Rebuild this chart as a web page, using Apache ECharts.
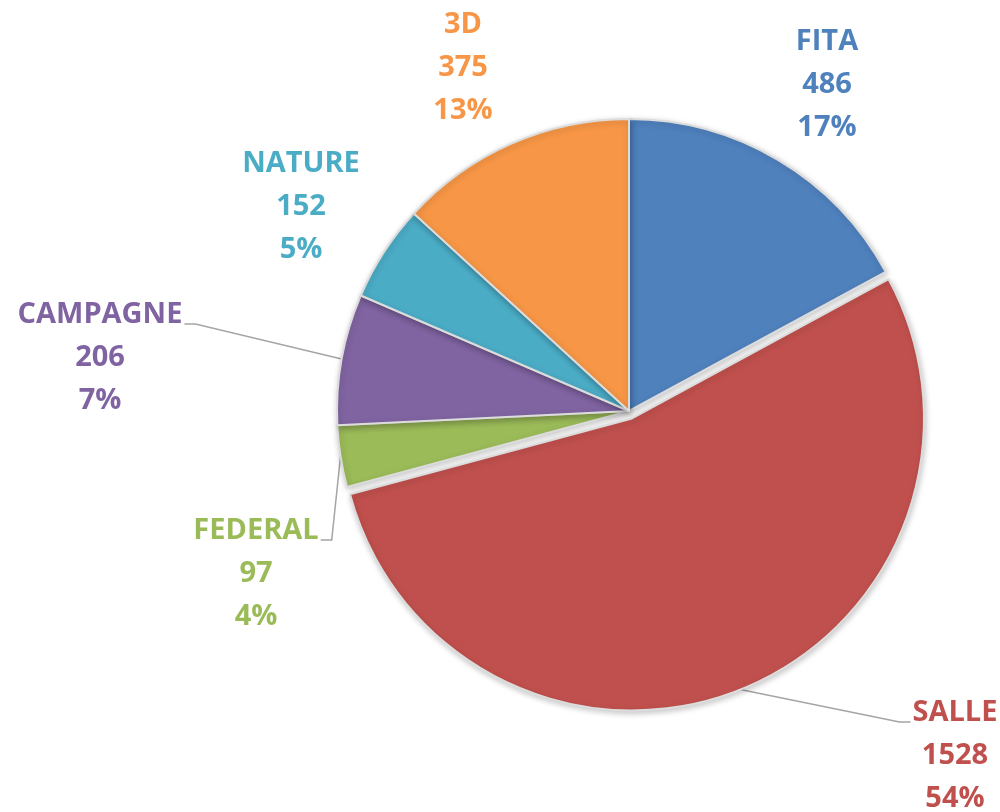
<!DOCTYPE html>
<html>
<head>
<meta charset="utf-8">
<title>Répartition par discipline</title>
<script src="https://cdn.jsdelivr.net/npm/echarts@6/dist/echarts.min.js"></script>
<style>
  html, body { margin: 0; padding: 0; background: #fff; }
  #chart { width: 1000px; height: 812px; }
</style>
</head>
<body>
<div id="chart"></div>
<script>
// données du graphique
const categories = ['FITA', 'SALLE', 'FEDERAL', 'CAMPAGNE', 'NATURE', '3D']
const counts = [486, 1528, 97, 206, 152, 375]

// couleurs des parts (palette Office)
const colors = ['#4f81bd', '#c0504d', '#9bbb59', '#8064a2', '#4bacc6', '#f79646']

// part détachée du camembert
const explodedName = 'SALLE'
const explodeOffset = 8

// placement des étiquettes : centre x, haut du bloc y, côté du trait de rappel
const labelSpots = [
  { x: 827, y: 20 },
  { x: 955, y: 691, line: 'left' },
  { x: 256, y: 509, line: 'right' },
  { x: 100, y: 293, line: 'right' },
  { x: 301, y: 142 },
  { x: 463, y: 3 }
]

const pieCenter = [629, 411]
const pieRadius = 292
const hidden = 'rgba(0,0,0,0)'

// décalage de la part détachée, le long de sa bissectrice
const total = counts.reduce((a, b) => a + b, 0)
const exIdx = categories.indexOf(explodedName)
const before = counts.slice(0, exIdx).reduce((a, b) => a + b, 0)
const midAngle = (before + counts[exIdx] / 2) / total * Math.PI * 2
const exDx = Math.sin(midAngle) * explodeOffset
const exDy = -Math.cos(midAngle) * explodeOffset

const chartInstance = echarts.init(document.getElementById('chart'))

const baseStyle = {
  borderColor: '#dcdcdc',
  borderWidth: 2,
  shadowBlur: 6,
  shadowColor: 'rgba(0, 0, 0, 0.22)',
  shadowOffsetX: 1,
  shadowOffsetY: 2
}
const hiddenStyle = { color: hidden, borderWidth: 0, shadowBlur: 0, shadowColor: hidden }

// série principale : toutes les parts + toutes les étiquettes (la part détachée y est invisible)
const mainData = categories.map((name, i) => ({
  name: name,
  value: counts[i],
  itemStyle: i === exIdx ? hiddenStyle : { color: colors[i] },
  label: { color: colors[i] },
  labelLine: { show: !!labelSpots[i].line }
}))

// série du dessus : seulement la part détachée, centre décalé
const explodedData = categories.map((name, i) => ({
  name: name,
  value: counts[i],
  itemStyle: i === exIdx ? { color: colors[i] } : hiddenStyle
}))

const option = {
  animation: false,
  series: [
    {
      type: 'pie',
      center: pieCenter,
      radius: pieRadius,
      startAngle: 90,
      clockwise: true,
      percentPrecision: 0,
      avoidLabelOverlap: false,
      itemStyle: baseStyle,
      label: {
        show: true,
        position: 'outside',
        formatter: '{b}\n{c}\n{d}%',
        fontFamily: 'Open Sans',
        fontWeight: 'bold',
        fontSize: 29,
        lineHeight: 43,
        align: 'center'
      },
      labelLine: {
        show: true,
        lineStyle: { color: '#a5a5a5', width: 1.5 }
      },
      labelLayout: function (params) {
        const spot = labelSpots[params.dataIndex]
        const out = { x: spot.x, y: spot.y, align: 'center', verticalAlign: 'top' }
        if (spot.line && params.labelLinePoints) {
          const half = params.labelRect.width / 2
          const lineY = spot.y + 31
          let start = params.labelLinePoints[0]
          if (params.dataIndex === exIdx) {
            start = [start[0] + exDx, start[1] + exDy]
          }
          if (spot.line === 'right') {
            out.labelLinePoints = [start, [spot.x + half + 13, lineY], [spot.x + half + 2, lineY]]
          } else {
            out.labelLinePoints = [start, [spot.x - half - 13, lineY], [spot.x - half - 2, lineY]]
          }
        }
        return out
      },
      data: mainData
    },
    {
      type: 'pie',
      silent: true,
      center: [pieCenter[0] + exDx, pieCenter[1] + exDy],
      radius: pieRadius,
      startAngle: 90,
      clockwise: true,
      itemStyle: baseStyle,
      label: { show: false },
      labelLine: { show: false },
      data: explodedData
    }
  ]
}

chartInstance.setOption(option)
</script>
</body>
</html>
